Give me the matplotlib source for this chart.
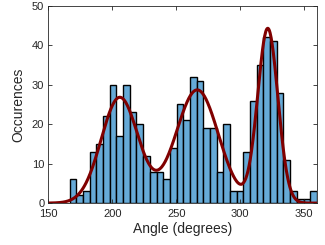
import numpy as np
import matplotlib
matplotlib.use("Agg")
import matplotlib.pyplot as plt

# -----------------------------
# Histogram data (counts per bin)
# -----------------------------
bin_start = 166.6
bin_end = 360.0
counts = [6, 2, 3, 13, 15, 22, 30, 17, 30, 23, 20, 12, 8,
          8, 6, 14, 25, 21, 32, 31, 19, 19, 8, 20, 3, 3,
          13, 26, 35, 42, 41, 28, 11, 3, 1, 1, 3]

# -----------------------------
# Fitted 3-term gaussian: a*exp(-((x-b)/c)^2)
# -----------------------------
fit_a = [26.8, 28.7, 44.2]
fit_b = [205.8, 266.4, 321.6]
fit_c = [20.5, 23.5, 11.2]

edges = np.linspace(bin_start, bin_end, len(counts) + 1)

xfit = np.linspace(150, 360, 500)
yfit = np.zeros_like(xfit)
for a, b, c in zip(fit_a, fit_b, fit_c):
    yfit += a * np.exp(-((xfit - b) / c) ** 2)

plt.rcParams['font.family'] = ['Liberation Sans', 'DejaVu Sans']
text_col = (0.15, 0.15, 0.15)

fig = plt.figure(figsize=(3.25, 2.45), dpi=100)
ax = fig.add_axes([0.149, 0.171, 0.826, 0.805])

ax.bar(edges[:-1], counts, width=np.diff(edges), align='edge',
       color=(0.4, 0.668, 0.845), edgecolor='black', linewidth=1.0)
ax.plot(xfit, yfit, color=(0.5, 0, 0), linewidth=2.2)

ax.set_xlim(150, 360)
ax.set_ylim(0, 50)
ax.set_xticks([150, 200, 250, 300, 350])
ax.set_yticks([0, 10, 20, 30, 40, 50])

ax.tick_params(direction='in', top=True, right=True, length=3,
               width=0.6, labelsize=8, colors=text_col)
ax.tick_params(axis='x', pad=4.5)
ax.tick_params(axis='y', pad=3)
for s in ax.spines.values():
    s.set_color(text_col)
    s.set_linewidth(0.6)

ax.set_xlabel("Angle (degrees)", fontsize=10, color=text_col, labelpad=2)
ax.set_ylabel("Occurences", fontsize=10, color=text_col, labelpad=5)

plt.savefig("out.png", dpi=100)
